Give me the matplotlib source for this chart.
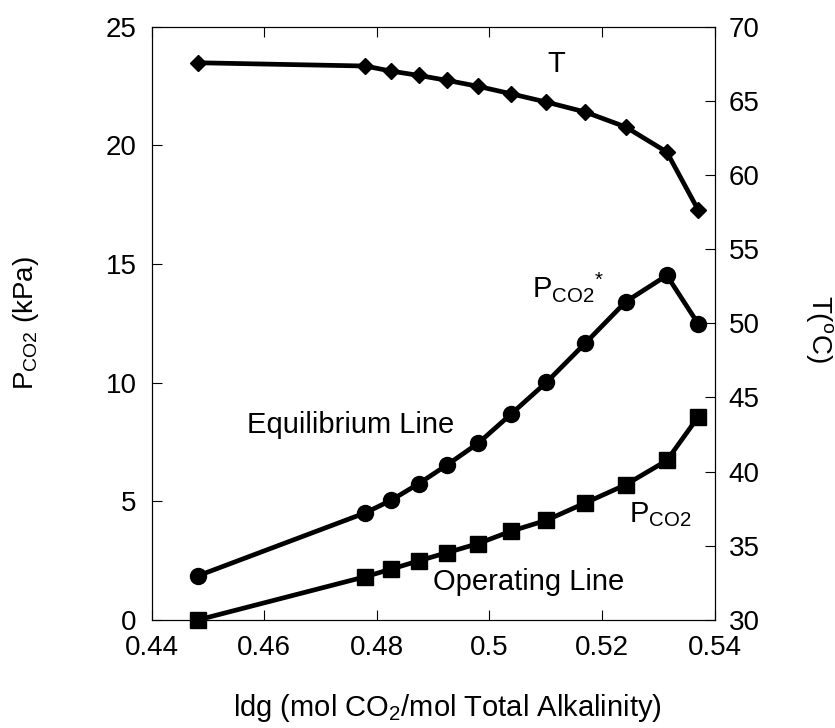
import matplotlib
matplotlib.use('Agg')
import matplotlib.pyplot as plt
from matplotlib.ticker import FixedLocator, FixedFormatter

plt.rcParams['font.family'] = ['Liberation Sans', 'DejaVu Sans']
plt.rcParams['mathtext.fontset'] = 'custom'
plt.rcParams['mathtext.rm'] = 'Liberation Sans'
plt.rcParams['mathtext.it'] = 'Liberation Sans:italic'
plt.rcParams['mathtext.bf'] = 'Liberation Sans:bold'

# data
ldg = [0.4482, 0.4779, 0.4825, 0.4874, 0.4925, 0.4980, 0.5038, 0.5101, 0.5170, 0.5242, 0.5315, 0.5371]
pco2_eq = [1.86, 4.51, 5.04, 5.74, 6.54, 7.45, 8.67, 10.01, 11.66, 13.41, 14.52, 12.47]
pco2_op = [0.0, 1.82, 2.14, 2.49, 2.84, 3.22, 3.74, 4.20, 4.93, 5.70, 6.72, 8.57]
temp = [67.57, 67.35, 67.01, 66.72, 66.38, 65.98, 65.48, 64.92, 64.25, 63.24, 61.55, 57.62]

xticks = [0.44, 0.46, 0.48, 0.5, 0.52, 0.54]
xticklabels = ['0.44', '0.46', '0.48', '0.5', '0.52', '0.54']
yticks = [0, 5, 10, 15, 20, 25]
tticks = [30, 35, 40, 45, 50, 55, 60, 65, 70]

FS = 20     # tick labels, axis titles
FS_TXT = 21 # annotations, x label

fig = plt.figure(figsize=(8.35, 7.28), dpi=100)
ax = fig.add_axes([0.1817, 0.1484, 0.6742, 0.8149])
ax2 = ax.twinx()

ax.plot(ldg, pco2_eq, color='black', lw=3.4, marker='o', ms=11.5, clip_on=False, zorder=3)
ax.plot(ldg, pco2_op, color='black', lw=3.4, marker='s', ms=12, clip_on=False, zorder=3)
ax2.plot(ldg, temp, color='black', lw=3.4, marker='D', ms=8.2, clip_on=False, zorder=3)

ax.set_xlim(0.44, 0.54)
ax.set_ylim(0, 25)
ax2.set_ylim(30, 70)

ax.xaxis.set_major_locator(FixedLocator(xticks))
ax.xaxis.set_major_formatter(FixedFormatter(xticklabels))
ax.set_yticks(yticks)
ax2.set_yticks(tticks)

ax.tick_params(axis='x', which='both', direction='in', length=7, width=0.8,
               top=True, bottom=True, labelsize=FS, pad=11)
ax.tick_params(axis='y', which='both', direction='in', length=7, width=0.8,
               left=True, right=False, labelsize=FS, pad=11)
ax2.tick_params(axis='y', direction='in', length=7, width=0.8, labelsize=FS, pad=10)

for a in (ax, ax2):
    for s in a.spines.values():
        s.set_linewidth(0.8)
        s.set_color('black')

ax.set_xlabel(r'ldg (mol CO$_2$/mol Total Alkalinity)', fontsize=FS_TXT)
ax.xaxis.set_label_coords(0.5245, -0.122)
ax.set_ylabel(r'P$_{\mathrm{CO2}}$ (kPa)', fontsize=FS)
ax.yaxis.set_label_coords(-0.197, 0.5)
ax2.set_ylabel(r'T($^{\mathrm{o}}$C)', fontsize=FS, rotation=270, va='bottom', ha='center')
ax2.yaxis.set_label_coords(1.158, 0.49)

# curve annotations
ax.text(0.5118, 23.10, 'T', fontsize=FS_TXT, ha='center', va='baseline')
ax.text(0.5075, 13.62, r'P$_{\mathrm{CO2}}$$^{*}$', fontsize=FS_TXT, ha='left', va='baseline')
ax.text(0.4753, 7.87, 'Equilibrium Line', fontsize=FS_TXT, ha='center', va='baseline')
ax.text(0.5069, 1.26, 'Operating Line', fontsize=FS_TXT, ha='center', va='baseline')
ax.text(0.5247, 4.14, r'P$_{\mathrm{CO2}}$', fontsize=FS_TXT, ha='left', va='baseline')

fig.savefig('out.png', dpi=100)
